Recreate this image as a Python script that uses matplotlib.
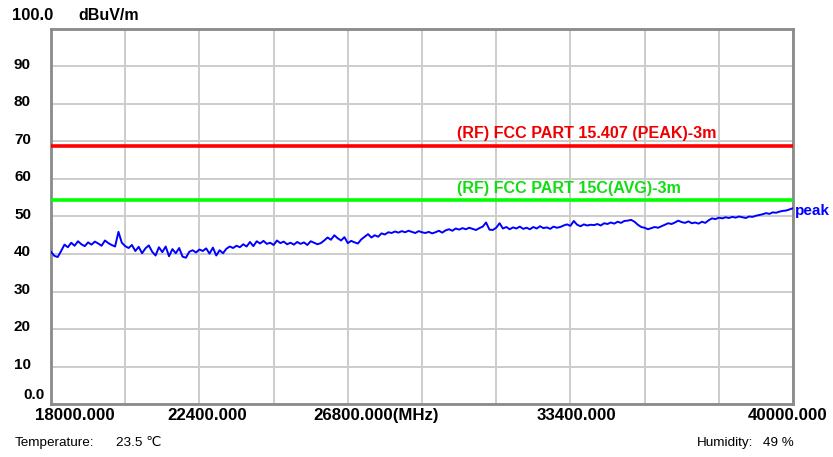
import numpy as np
import matplotlib
matplotlib.use("Agg")
import matplotlib.pyplot as plt
import matplotlib.transforms as mtransforms

plt.rcParams['font.family'] = ['Liberation Sans', 'DejaVu Sans']

# ---- data ----
f_start, f_stop = 18000.0, 40000.0
peak_values = [
    40.6, 39.5, 39.2, 40.8, 42.5, 41.8, 43.0, 42.2, 43.4, 42.6, 42.1,
    43.1, 42.5, 43.3, 42.8, 42.2, 43.6, 42.9, 42.4, 42.0, 45.9,
    43.0, 42.1, 41.6, 42.4, 40.8, 41.9, 40.2, 41.5, 42.3, 40.6,
    39.6, 41.8, 40.5, 42.0, 39.4, 41.3, 40.2, 41.6, 39.3, 39.0,
    40.6, 41.0, 40.4, 41.2, 40.8, 41.5, 40.1, 41.7, 39.6, 41.0,
    40.2, 41.4, 42.0, 41.6, 42.2, 41.8, 42.6, 42.0, 43.2, 42.1,
    43.4, 42.8, 43.5, 42.7, 43.0, 42.4, 43.6, 42.9, 43.3, 42.6,
    43.0, 42.5, 43.2, 42.7, 43.1, 42.4, 43.4, 43.0, 42.6, 42.9,
    43.6, 44.4, 43.8, 45.0, 44.2, 43.6, 44.5, 42.9, 43.5, 43.1,
    42.8, 43.9, 44.6, 45.3, 44.4, 45.0, 44.6, 45.5, 45.2, 45.8,
    45.6, 46.0, 45.7, 46.1, 45.8, 46.2, 45.9, 45.6, 46.1, 45.8,
    45.6, 45.9, 45.5, 45.8, 46.2, 45.7, 46.3, 46.6, 46.2, 46.8,
    46.5, 46.9, 46.6, 47.0, 46.7, 46.4, 46.9, 47.3, 48.4, 46.5,
    46.4, 47.0, 48.2, 46.8, 47.2, 46.6, 47.1, 46.8, 47.3, 46.7,
    47.0, 46.6, 47.2, 46.8, 47.4, 46.9, 47.1, 46.7, 47.3, 47.0,
    47.2, 47.6, 47.9, 47.5, 48.8, 47.8, 47.4, 47.9, 47.6, 47.8,
    47.7, 48.0, 47.6, 48.2, 48.0, 48.4, 48.1, 48.6, 48.3, 48.8,
    48.9, 49.1, 48.6, 47.8, 47.2, 47.0, 46.6, 46.9, 47.2, 47.0,
    47.4, 47.8, 48.2, 48.0, 48.4, 48.9, 48.5, 48.3, 48.7, 48.2,
    48.4, 48.1, 48.6, 48.3, 49.0, 49.5, 49.3, 49.7, 49.5, 49.8,
    49.6, 49.9, 49.7, 50.0, 49.8, 49.6, 50.0, 49.9, 50.2, 50.4,
    50.6, 50.9, 50.7, 51.1, 51.0, 51.3, 51.5, 51.6, 51.9, 52.2,
]
freqs = np.linspace(f_start, f_stop, len(peak_values))

limit_peak = 68.9
limit_avg = 54.5
limit_peak_label = "(RF) FCC PART 15.407 (PEAK)-3m"
limit_avg_label = "(RF) FCC PART 15C(AVG)-3m"

y_ticks = [0, 10, 20, 30, 40, 50, 60, 70, 80, 90, 100]
y_tick_labels = ["0.0", "10", "20", "30", "40", "50", "60", "70", "80", "90", "100.0"]
x_label_freqs = [18000, 22400, 26800, 33400, 40000]
x_label_texts = ["18000.000", "22400.000", "26800.000(MHz)", "33400.000", "40000.000"]

# ---- figure ----
W, H = 833, 457
fig = plt.figure(figsize=(W / 100, H / 100), dpi=100)
L, R, T, B = 51, 793, 29, 404
ax = fig.add_axes([L / W, (H - B) / H, (R - L) / W, (B - T) / H])
ax.set_xlim(f_start, f_stop)
ax.set_ylim(0, 100)

ax.set_xticks(np.linspace(f_start, f_stop, 11))
ax.set_yticks(y_ticks)
ax.grid(True, color='#cccccc', linewidth=1.4)
ax.tick_params(length=0, labelbottom=False, labelleft=False)
for s in ax.spines.values():
    s.set_color('#8a8a8a')
    s.set_linewidth(2.0)

ax.plot(freqs, peak_values, color='#0000ff', linewidth=1.4, zorder=4)
ax.axhline(limit_peak, color='#ff0000', linewidth=2.6, zorder=3)
ax.axhline(limit_avg, color='#00ff00', linewidth=2.6, zorder=3)

lbl_x = f_start + (457 - L) / (R - L) * (f_stop - f_start)
ax.text(lbl_x, limit_peak + 1.1, limit_peak_label, color='#ee0000',
        fontsize=11.6, fontweight='bold', ha='left', va='bottom')
ax.text(lbl_x, limit_avg + 1.1, limit_avg_label, color='#11dd11',
        fontsize=11.6, fontweight='bold', ha='left', va='bottom')

ax.text(1.003, peak_values[-1] - 0.8, "peak",
        transform=mtransforms.blended_transform_factory(ax.transAxes, ax.transData),
        color='#0000ff', fontsize=11, fontweight='bold', ha='left', va='center')

# y tick labels
ytr = mtransforms.blended_transform_factory(fig.transFigure, ax.transData)
for v, t in zip(y_ticks, y_tick_labels):
    if t == "100.0":
        fig.text(12 / W, 1 - 16 / H, t, fontsize=12, fontweight='bold', ha='left', va='center')
    elif t == "0.0":
        ax.text(45 / W, v + 2.3, t, transform=ytr, fontsize=11, fontweight='bold', ha='right', va='center')
    else:
        ax.text(31 / W, v + 0.5, t, transform=ytr, fontsize=11, fontweight='bold', ha='right', va='center')

fig.text(78 / W, 1 - 15 / H, "dBuV/m", fontsize=11.5, fontweight='bold', ha='left', va='center')

# x labels
x_px = [35, 167, 313, 537, 748]
for xp, t in zip(x_px, x_label_texts):
    fig.text(xp / W, 1 - 420 / H, t, fontsize=12.2, fontweight='bold', ha='left', va='baseline')

fig.text(15 / W, 1 - 443 / H, "Temperature:", fontsize=9.7, ha='left', va='center')
fig.text(116 / W, 1 - 443 / H, "23.5 ℃", fontsize=9.7, ha='left', va='center')
fig.text(697 / W, 1 - 443 / H, "Humidity:", fontsize=9.7, ha='left', va='center')
fig.text(763 / W, 1 - 443 / H, "49 %", fontsize=9.7, ha='left', va='center')

fig.savefig("out.png", dpi=100, facecolor='white')
